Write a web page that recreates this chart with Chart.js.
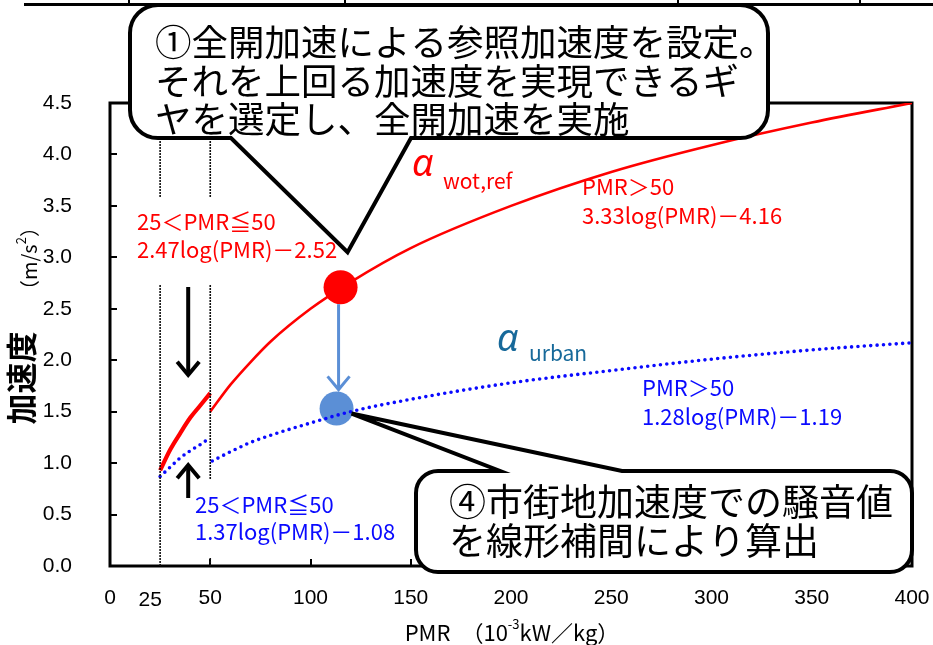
<!DOCTYPE html>
<html>
<head>
<meta charset="utf-8">
<script src="https://cdn.jsdelivr.net/npm/chart.js@4.4.1/dist/chart.umd.min.js"></script>
<style>
html,body{margin:0;padding:0;background:#fff;}
</style>
</head>
<body>
<canvas id="chart" width="933" height="645"></canvas>
<script>
// ===== DATA =====
const wotX1 = [25, 30, 35, 40, 45, 50];
const wotY1 = [0.93, 1.13, 1.29, 1.44, 1.56, 1.68];
const wotX2 = [50, 60, 70, 80, 100, 120, 150, 200, 250, 300, 350, 400];
const wotY2 = [1.50, 1.76, 1.98, 2.18, 2.50, 2.76, 3.09, 3.50, 3.83, 4.09, 4.31, 4.50];
const urbX1 = [25, 30, 35, 40, 45, 48];
const urbY1 = [0.87, 0.96, 1.05, 1.12, 1.18, 1.22];
const urbX2 = [51, 60, 70, 80, 100, 120, 150, 200, 250, 300, 350, 400];
const urbY2 = [1.02, 1.11, 1.20, 1.27, 1.39, 1.50, 1.62, 1.78, 1.90, 2.01, 2.10, 2.17];
const boundX = [25, 50];
const refPoint = [115, 2.71];
const urbPoint = [113, 1.53];
const arrowX = 39;
const xTicks = [0, 25, 50, 100, 150, 200, 250, 300, 350, 400];
const yMin = 0, yMax = 4.5, yStep = 0.5;

// ===== HELPERS =====
const JP = '"Noto Sans CJK JP", "Noto Sans", sans-serif';
const NUM = '"Liberation Sans", Arial, sans-serif';
const RED = '#ff0000', BLUE = '#0a0aff', TEAL = '#17699a', MARK = '#5b8fd6';
const pts = (xs, ys) => xs.map((x,i)=>({x, y:ys[i]}));
const curve = (data, color, width, dotted) => ({
  data, showLine:true, pointRadius:0, fill:false,
  borderColor:color, borderWidth:width,
  borderDash: dotted ? [0, 6.4] : [],
  borderCapStyle: dotted ? 'round' : 'butt',
  cubicInterpolationMode:'monotone'
});

function txt(ctx, s, x, y, font, color, align){
  ctx.font = font; ctx.fillStyle = color;
  ctx.textAlign = align || 'left'; ctx.textBaseline = 'middle';
  ctx.fillText(s, x, y);
}

function bubble(ctx, x0, y0, x1, y1, r, tail){
  ctx.beginPath();
  ctx.moveTo(x0+r, y0);
  if(tail.side==='top'){ ctx.lineTo(tail.a, y0); ctx.lineTo(tail.tip[0], tail.tip[1]); ctx.lineTo(tail.b, y0); }
  ctx.lineTo(x1-r, y0);
  ctx.arcTo(x1, y0, x1, y0+r, r);
  ctx.lineTo(x1, y1-r);
  ctx.arcTo(x1, y1, x1-r, y1, r);
  if(tail.side==='bottom'){ ctx.lineTo(tail.b, y1); ctx.lineTo(tail.tip[0], tail.tip[1]); ctx.lineTo(tail.a, y1); }
  ctx.lineTo(x0+r, y1);
  ctx.arcTo(x0, y1, x0, y1-r, r);
  ctx.lineTo(x0, y0+r);
  ctx.arcTo(x0, y0, x0+r, y0, r);
  ctx.closePath();
  ctx.fillStyle = '#fff'; ctx.fill();
  ctx.lineWidth = 4; ctx.strokeStyle = '#000'; ctx.lineJoin = 'miter'; ctx.stroke();
}

function arrow(ctx, x, y0, y1, color, w, head){
  const d = y1 > y0 ? 1 : -1;
  ctx.save();
  ctx.strokeStyle = color; ctx.lineWidth = w; ctx.lineCap = 'butt';
  ctx.beginPath(); ctx.moveTo(x, y0); ctx.lineTo(x, y1); ctx.stroke();
  ctx.beginPath();
  ctx.moveTo(x-head, y1-d*head*1.2); ctx.lineTo(x, y1); ctx.lineTo(x+head, y1-d*head*1.2);
  ctx.stroke();
  ctx.restore();
}

// ===== FRAME + ANNOTATIONS =====
const frame = {
  id:'frame',
  beforeDatasetsDraw(c){
    const {ctx, chartArea:a, scales:{x, y}} = c;
    ctx.save();
    ctx.strokeStyle = '#000'; ctx.lineWidth = 2;
    for(let v=yMin; v<=yMax+1e-9; v+=yStep){
      const py = Math.round(y.getPixelForValue(v));
      ctx.beginPath(); ctx.moveTo(a.left, py); ctx.lineTo(a.left+7, py); ctx.stroke();
    }
    xTicks.filter(v=>v>=50).forEach(v=>{
      const px = Math.round(x.getPixelForValue(v));
      ctx.beginPath(); ctx.moveTo(px, a.bottom); ctx.lineTo(px, a.bottom-7); ctx.stroke();
    });
    ctx.lineWidth = 3;
    ctx.strokeRect(a.left, a.top, a.right-a.left, a.bottom-a.top);
    ctx.restore();
  },
  afterDatasetsDraw(c){
    const {ctx, chartArea:a, scales:{x, y}} = c;
    ctx.save();

    // remains of the table above
    ctx.fillStyle = '#000';
    ctx.fillRect(24, 3, 909, 3);
    [128, 344, 677, 859].forEach(v=>ctx.fillRect(v, 0, 2, 4));

    // formula labels (white backing hides the guide lines)
    ctx.fillStyle = '#fff';
    boundX.forEach(v=>{
      const px = x.getPixelForValue(v);
      ctx.fillRect(px-4, 197, 8, 88);
    });
    ctx.fillRect(x.getPixelForValue(boundX[1])-4, 479, 8, 78);
    const f20 = '22px ' + JP;
    txt(ctx, '25＜PMR≦50', 137, 222, f20, RED);
    txt(ctx, '2.47log(PMR)－2.52', 137, 250, f20, RED);
    txt(ctx, 'PMR＞50', 582, 187, f20, RED);
    txt(ctx, '3.33log(PMR)－4.16', 582, 216, f20, RED);
    txt(ctx, 'PMR＞50', 642, 388, f20, BLUE);
    txt(ctx, '1.28log(PMR)－1.19', 642, 417, f20, BLUE);
    txt(ctx, '25＜PMR≦50', 195, 505, f20, BLUE);
    txt(ctx, '1.37log(PMR)－1.08', 195, 532, f20, BLUE);

    txt(ctx, 'α', 412, 165, 'italic 38px "Noto Sans", sans-serif', RED);
    txt(ctx, 'wot,ref', 443, 181, '21px ' + JP, RED);
    txt(ctx, 'α', 497, 340, 'italic 38px "Noto Sans", sans-serif', TEAL);
    txt(ctx, 'urban', 529, 353, '21px ' + JP, TEAL);

    // arrows
    const ax = x.getPixelForValue(arrowX);
    arrow(ctx, ax, 287, 375, '#000', 4, 11);
    arrow(ctx, ax, 498, 465, '#000', 4, 11);
    const rx = x.getPixelForValue(refPoint[0]), ry = y.getPixelForValue(refPoint[1]);
    const bx = x.getPixelForValue(urbPoint[0]), by = y.getPixelForValue(urbPoint[1]);
    arrow(ctx, (rx+bx)/2, ry+17, by-19, MARK, 3, 11);

    // callouts
    bubble(ctx, 130, 5, 768, 138, 28, {side:'bottom', a:231, b:411, tip:[rx+7, ry-35]});
    const f35 = '36.5px ' + JP;
    txt(ctx, '①全開加速による参照加速度を設定。', 155, 42, f35, '#000');
    txt(ctx, 'それを上回る加速度を実現できるギ', 155, 81, f35, '#000');
    txt(ctx, 'ヤを選定し、全開加速を実施', 155, 119, f35, '#000');

    bubble(ctx, 416, 471, a.right, 572, 22, {side:'top', a:500, b:622, tip:[bx+15, by+5]});
    const f36 = '37px ' + JP;
    txt(ctx, '④市街地加速度での騒音値', 449, 502, f36, '#000');
    txt(ctx, 'を線形補間により算出', 449, 541, f36, '#000');

    // the "25" tick label sits lower and to the left
    txt(ctx, '25', x.getPixelForValue(25)-10, 600, '21px ' + NUM, '#000', 'center');

    // x title with superscript
    const p1 = 'PMR　（10', sup = '-3', p2 = 'kW／kg）';
    ctx.font = '22px ' + JP; const w1 = ctx.measureText(p1).width, w3 = ctx.measureText(p2).width;
    ctx.font = '13px ' + JP; const w2 = ctx.measureText(sup).width;
    let sx = 512 - (w1+w2+w3)/2;
    txt(ctx, p1, sx, 633, '22px ' + JP, '#000'); sx += w1;
    txt(ctx, sup, sx, 624, '13px ' + JP, '#000'); sx += w2;
    txt(ctx, p2, sx, 633, '22px ' + JP, '#000');

    // y title, rotated, two sizes
    ctx.save();
    ctx.translate(21, 378); ctx.rotate(-Math.PI/2);
    txt(ctx, '加速度', 0, 0, 'bold 31px ' + JP, '#000', 'center');
    ctx.restore();
    ctx.save();
    ctx.translate(29, 300); ctx.rotate(-Math.PI/2);
    ctx.font = '20px ' + JP; const u1 = ctx.measureText('（m/s').width;
    txt(ctx, '（m/s', 0, 0, '20px ' + JP, '#000');
    txt(ctx, '2', u1, -8, '13px ' + JP, '#000');
    ctx.font = '13px ' + JP; const u2 = ctx.measureText('2').width;
    txt(ctx, '）', u1+u2, 0, '20px ' + JP, '#000');
    ctx.restore();

    ctx.restore();
  }
};

// ===== CHART =====
const guides = boundX.map(v => ({
  data:[{x:v, y:yMin}, {x:v, y:yMax}], showLine:true, pointRadius:0,
  borderColor:'#111', borderWidth:1.6, borderDash:[2, 1]
}));

new Chart(document.getElementById('chart'), {
  type:'scatter',
  data:{
    datasets:[
      ...guides,
      curve(pts(urbX1, urbY1), BLUE, 3.6, true),
      curve(pts(urbX2, urbY2), BLUE, 3.6, true),
      curve(pts(wotX1, wotY1), RED, 4.2, false),
      curve(pts(wotX2, wotY2), RED, 2.6, false),
      {data:[{x:refPoint[0], y:refPoint[1]}], pointRadius:17, backgroundColor:RED, borderWidth:0},
      {data:[{x:urbPoint[0], y:urbPoint[1]}], pointRadius:17, backgroundColor:MARK, borderWidth:0}
    ]
  },
  options:{
    responsive:false,
    animation:false,
    layout:{padding:{top:103, right:21, left:0, bottom:0}},
    plugins:{legend:{display:false}, tooltip:{enabled:false}},
    scales:{
      x:{
        type:'linear', min:0, max:400,
        afterBuildTicks: s => { s.ticks = xTicks.map(v=>({value:v})); },
        afterFit: s => { s.height = 79; s.paddingLeft = 0; s.paddingRight = 0; },
        grid:{display:false}, border:{display:false},
        ticks:{autoSkip:false, maxRotation:0, padding:12, color:'#000',
          font:{family:NUM, size:21},
          callback: v => v===25 ? '' : String(v)}
      },
      y:{
        min:yMin, max:yMax,
        afterFit: s => { s.width = 110; s.paddingTop = 0; s.paddingBottom = 0; },
        grid:{display:false}, border:{display:false},
        ticks:{stepSize:yStep, padding:30, color:'#000',
          font:{family:NUM, size:21},
          callback: v => v.toFixed(1)}
      }
    }
  },
  plugins:[frame]
});
</script>
</body>
</html>
